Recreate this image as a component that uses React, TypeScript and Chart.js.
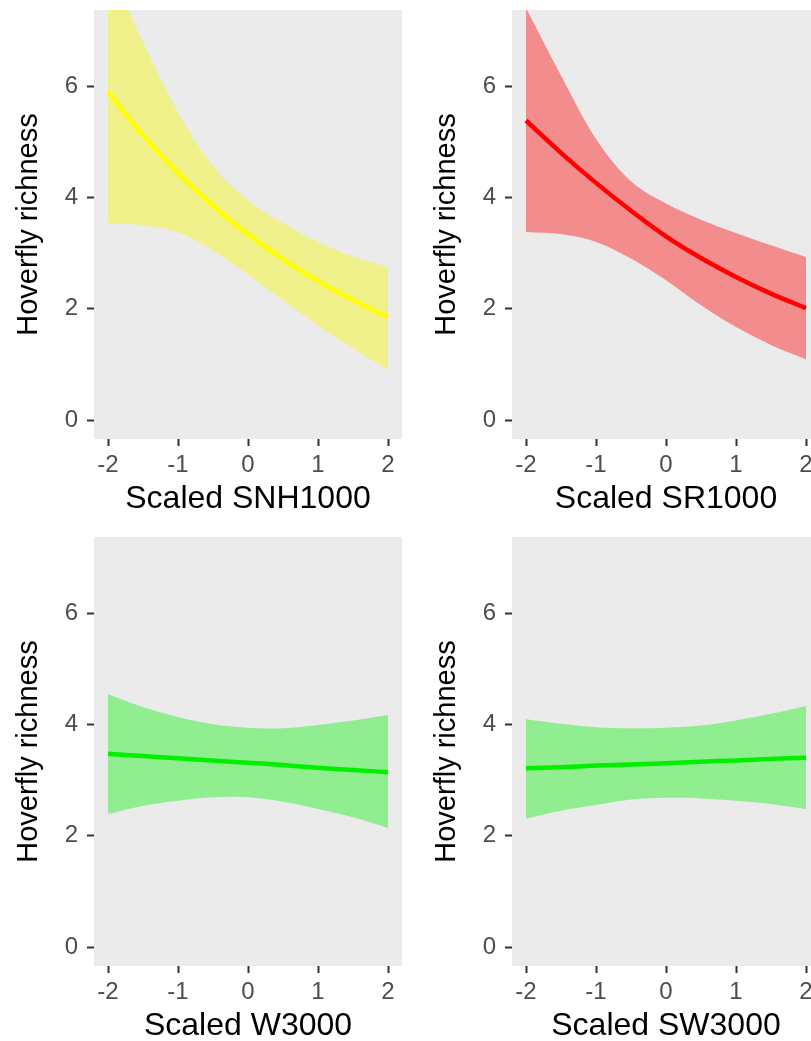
import React, { useEffect, useRef } from "react";
import { Chart, registerables } from "chart.js";

Chart.register(...registerables);

// ---- data ----
const xValues = [-2, -1.5, -1, -0.5, 0, 0.5, 1, 1.5, 2];

const snhFit = [5.9, 5.12, 4.44, 3.85, 3.34, 2.89, 2.5, 2.16, 1.85];
const snhUpper = [8.2, 6.79, 5.53, 4.56, 3.95, 3.54, 3.2, 2.94, 2.75];
const snhLower = [3.53, 3.5, 3.37, 3.05, 2.61, 2.15, 1.7, 1.29, 0.9];

const srFit = [5.38, 4.8, 4.26, 3.76, 3.3, 2.91, 2.57, 2.27, 2.01];
const srUpper = [7.4, 6.19, 5.05, 4.29, 3.89, 3.6, 3.36, 3.14, 2.93];
const srLower = [3.38, 3.34, 3.2, 2.9, 2.51, 2.06, 1.67, 1.35, 1.09];

const wFit = [3.47, 3.43, 3.39, 3.35, 3.31, 3.27, 3.22, 3.18, 3.14];
const wUpper = [4.54, 4.31, 4.13, 4.0, 3.94, 3.93, 3.99, 4.07, 4.17];
const wLower = [2.39, 2.54, 2.63, 2.69, 2.69, 2.61, 2.48, 2.33, 2.14];

const swFit = [3.21, 3.23, 3.26, 3.28, 3.3, 3.33, 3.35, 3.38, 3.4];
const swUpper = [4.09, 4.01, 3.95, 3.93, 3.94, 3.98, 4.07, 4.19, 4.33];
const swLower = [2.31, 2.45, 2.55, 2.65, 2.68, 2.67, 2.63, 2.57, 2.48];

const xTickValues = [-2, -1, 0, 1, 2];
const yTickValues = [0, 2, 4, 6];
const yTitle = "Hoverfly richness";
const xTitles = ["Scaled SNH1000", "Scaled SR1000", "Scaled W3000", "Scaled SW3000"];

const panels = [
  { title: xTitles[0], fit: snhFit, upper: snhUpper, lower: snhLower, line: "#FFFF00", band: "rgb(241,241,140)" },
  { title: xTitles[1], fit: srFit, upper: srUpper, lower: srLower, line: "#FF0000", band: "rgb(243,140,140)" },
  { title: xTitles[2], fit: wFit, upper: wUpper, lower: wLower, line: "#00F000", band: "rgb(144,238,144)" },
  { title: xTitles[3], fit: swFit, upper: swUpper, lower: swLower, line: "#00F000", band: "rgb(144,238,144)" },
];

const PANEL_W = 418;
const PANEL_H = 527;
const FONT = "'Liberation Sans', Arial, sans-serif";

const bgPlugin = {
  id: "panelBg",
  beforeDraw(chart: any) {
    const { ctx, chartArea } = chart;
    if (!chartArea) return;
    ctx.save();
    ctx.fillStyle = "#EBEBEB";
    ctx.fillRect(chartArea.left, chartArea.top, chartArea.right - chartArea.left, chartArea.bottom - chartArea.top);
    ctx.restore();
  },
};

function Panel({ p }: { p: any }) {
  const ref = useRef<HTMLCanvasElement | null>(null);
  useEffect(() => {
    if (!ref.current) return;
    const pts = (arr: number[]) => xValues.map((x, i) => ({ x, y: arr[i] }));
    const common = { pointRadius: 0, tension: 0.35, clip: 0 };
    const chart = new Chart(ref.current, {
      type: "line",
      data: {
        datasets: [
          { ...common, data: pts(p.fit), borderColor: p.line, borderWidth: 4.5, fill: false, order: 0 },
          { ...common, data: pts(p.upper), borderColor: "rgba(0,0,0,0)", borderWidth: 0, backgroundColor: p.band, fill: "+1", order: 1 },
          { ...common, data: pts(p.lower), borderColor: "rgba(0,0,0,0)", borderWidth: 0, fill: false, order: 2 },
        ],
      },
      options: {
        responsive: false,
        animation: false,
        events: [],
        layout: { padding: { top: 10, right: 16, bottom: 0, left: 0 } },
        plugins: { legend: { display: false }, tooltip: { enabled: false } },
        scales: {
          x: {
            type: "linear",
            min: -2.2,
            max: 2.2,
            afterBuildTicks: (s: any) => {
              s.ticks = xTickValues.map((v) => ({ value: v }));
            },
            afterFit: (s: any) => {
              s.height = 88;
              s.paddingLeft = 0;
              s.paddingRight = 0;
            },
            grid: { drawOnChartArea: false, drawTicks: true, tickLength: 7, tickWidth: 2, tickColor: "#333333" },
            border: { display: false },
            ticks: { color: "#4D4D4D", font: { family: FONT, size: 24 }, padding: 5, maxRotation: 0 },
            title: { display: true, text: p.title, color: "#000000", font: { family: FONT, size: 32 }, padding: { top: 0, bottom: 9 } },
          },
          y: {
            type: "linear",
            min: -0.34,
            max: 7.365,
            afterBuildTicks: (s: any) => {
              s.ticks = yTickValues.map((v) => ({ value: v }));
            },
            afterFit: (s: any) => {
              s.width = 94;
              s.paddingTop = 0;
              s.paddingBottom = 0;
            },
            grid: { drawOnChartArea: false, drawTicks: true, tickLength: 7, tickWidth: 2, tickColor: "#333333" },
            border: { display: false },
            ticks: { color: "#4D4D4D", font: { family: FONT, size: 24 }, padding: 9 },
            title: { display: true, text: yTitle, color: "#000000", font: { family: FONT, size: 29 }, padding: { top: 12, bottom: 0 } },
          },
        },
      },
      plugins: [bgPlugin],
    } as any);
    return () => chart.destroy();
  }, [p]);
  return <canvas ref={ref} width={PANEL_W} height={PANEL_H} style={{ display: "block", width: PANEL_W, height: PANEL_H }} />;
}

export default function App() {
  return (
    <div style={{ position: "absolute", left: 0, top: 0, width: 811, height: 1041, overflow: "hidden", background: "#FFFFFF" }}>
      {panels.map((p, i) => (
        <div key={i} style={{ position: "absolute", left: (i % 2) * PANEL_W, top: Math.floor(i / 2) * PANEL_H, width: PANEL_W, height: PANEL_H }}>
          <Panel p={p} />
        </div>
      ))}
    </div>
  );
}
